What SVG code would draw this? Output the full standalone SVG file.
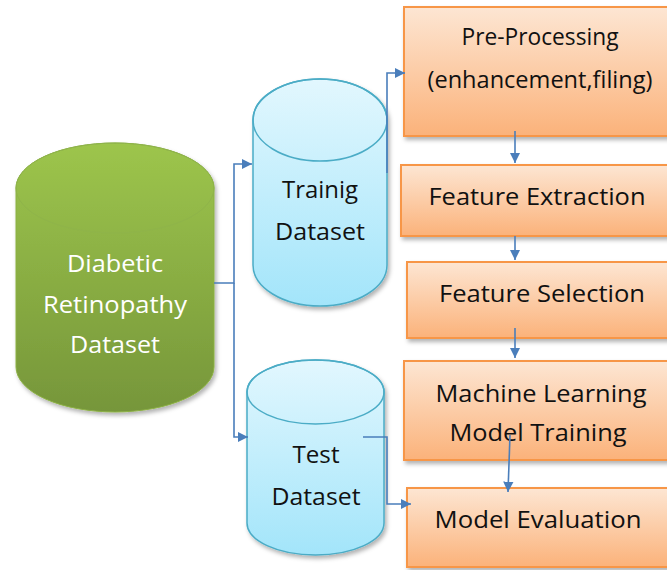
<svg xmlns="http://www.w3.org/2000/svg" width="667" height="570" viewBox="0 0 667 570">
<defs>
<linearGradient id="gGreen" x1="0" y1="0" x2="0" y2="1"><stop offset="0" stop-color="#9dc54c"/><stop offset="1" stop-color="#76963a"/></linearGradient>
<linearGradient id="gBlue" x1="0" y1="0" x2="0" y2="1"><stop offset="0" stop-color="#e2f7fe"/><stop offset="1" stop-color="#a3e5fa"/></linearGradient>
<linearGradient id="gOrange" x1="0" y1="0" x2="0" y2="1"><stop offset="0" stop-color="#fde6d3"/><stop offset="1" stop-color="#fbb27a"/></linearGradient>
<filter id="sh" x="-10%" y="-10%" width="130%" height="140%"><feDropShadow dx="2" dy="3" stdDeviation="2" flood-color="#000" flood-opacity="0.3"/></filter>
<marker id="ah" viewBox="0 0 10 10" refX="10" refY="5" markerWidth="6.5" markerHeight="6.5" markerUnits="strokeWidth" orient="auto"><path d="M0,0 L10,5 L0,10 z" fill="#4a7ebb"/></marker>
</defs>
<style>
.box{fill:url(#gOrange);stroke:#f79646;stroke-width:2;filter:url(#sh)}
.cylb{fill:url(#gBlue);stroke:#4bacc6;stroke-width:1.5;filter:url(#sh)}
.cylg{fill:url(#gGreen);stroke:#8bb043;stroke-width:1;filter:url(#sh)}
.t{font-family:"Open Sans","Liberation Sans",sans-serif;font-size:23px;fill:#111;text-anchor:middle}
.tc{font-family:"Open Sans","Liberation Sans",sans-serif;font-size:24px;text-anchor:middle}
.c{fill:none;stroke:#4a7ebb;stroke-width:1.6}
</style>
<g id="diabetic">
<path class="cylg" d="M16,188 A99,45 0 0 1 214,188 L214,367 A99,45 0 0 1 16,367 Z"/>
<ellipse cx="115" cy="188" rx="99" ry="45" fill="none" stroke="#8fb44a" stroke-width="1"/>
<text class="tc" fill="#fff" x="115" y="272" textLength="96" lengthAdjust="spacingAndGlyphs">Diabetic</text>
<text class="tc" fill="#fff" x="115" y="313" textLength="144" lengthAdjust="spacingAndGlyphs">Retinopathy</text>
<text class="tc" fill="#fff" x="115" y="353" textLength="90" lengthAdjust="spacingAndGlyphs">Dataset</text>
</g>
<g id="training">
<path class="cylb" d="M253,120 A67,41 0 0 1 387,120 L387,265 A67,41 0 0 1 253,265 Z"/>
<ellipse cx="320" cy="120" rx="67" ry="41" fill="none" stroke="#4bacc6" stroke-width="1.5"/>
<text class="tc" fill="#111" x="320" y="198" textLength="76" lengthAdjust="spacingAndGlyphs">Trainig</text>
<text class="tc" fill="#111" x="320" y="240" textLength="90" lengthAdjust="spacingAndGlyphs">Dataset</text>
</g>
<g id="test">
<path class="cylb" d="M247,392 A68.5,32 0 0 1 384,392 L384,523 A68.5,32 0 0 1 247,523 Z"/>
<ellipse cx="315.5" cy="392" rx="68.5" ry="32" fill="none" stroke="#4bacc6" stroke-width="1.5"/>
<text class="tc" fill="#111" x="316" y="463" textLength="47" lengthAdjust="spacingAndGlyphs">Test</text>
<text class="tc" fill="#111" x="316" y="505" textLength="89" lengthAdjust="spacingAndGlyphs">Dataset</text>
</g>
<g id="preprocessing">
<rect class="box" x="404" y="7" width="280" height="129"/>
<text class="t" x="540" y="45" textLength="157" lengthAdjust="spacingAndGlyphs">Pre-Processing</text>
<text class="t" x="540" y="88" textLength="225" lengthAdjust="spacingAndGlyphs">(enhancement,filing)</text>
</g>
<g id="extraction">
<rect class="box" x="401" y="165" width="280" height="71"/>
<text class="t" x="537" y="205" textLength="217" lengthAdjust="spacingAndGlyphs">Feature Extraction</text>
</g>
<g id="selection">
<rect class="box" x="407" y="262" width="280" height="76"/>
<text class="t" x="542" y="302" textLength="206" lengthAdjust="spacingAndGlyphs">Feature Selection</text>
</g>
<g id="mltraining">
<rect class="box" x="404" y="361" width="280" height="99"/>
<text class="t" x="541" y="402" textLength="211" lengthAdjust="spacingAndGlyphs">Machine Learning</text>
<text class="t" x="538" y="441" textLength="177" lengthAdjust="spacingAndGlyphs">Model Training</text>
</g>
<g id="evaluation">
<rect class="box" x="407" y="488" width="280" height="79"/>
<text class="t" x="538" y="528" textLength="207" lengthAdjust="spacingAndGlyphs">Model Evaluation</text>
</g>
<g id="connectors">
<path class="c" d="M214,283 H234 V164 H252" marker-end="url(#ah)"/>
<path class="c" d="M234,283 V437 H248" marker-end="url(#ah)"/>
<path class="c" d="M387,173 V73 H405" marker-end="url(#ah)"/>
<path class="c" d="M363,437 H387 V504 H411" marker-end="url(#ah)"/>
<path class="c" d="M515,131 V163" marker-end="url(#ah)"/>
<path class="c" d="M515,236 V260" marker-end="url(#ah)"/>
<path class="c" d="M515,328 V358" marker-end="url(#ah)"/>
<path class="c" d="M510,435 L508,492" marker-end="url(#ah)"/>
</g>
</svg>
